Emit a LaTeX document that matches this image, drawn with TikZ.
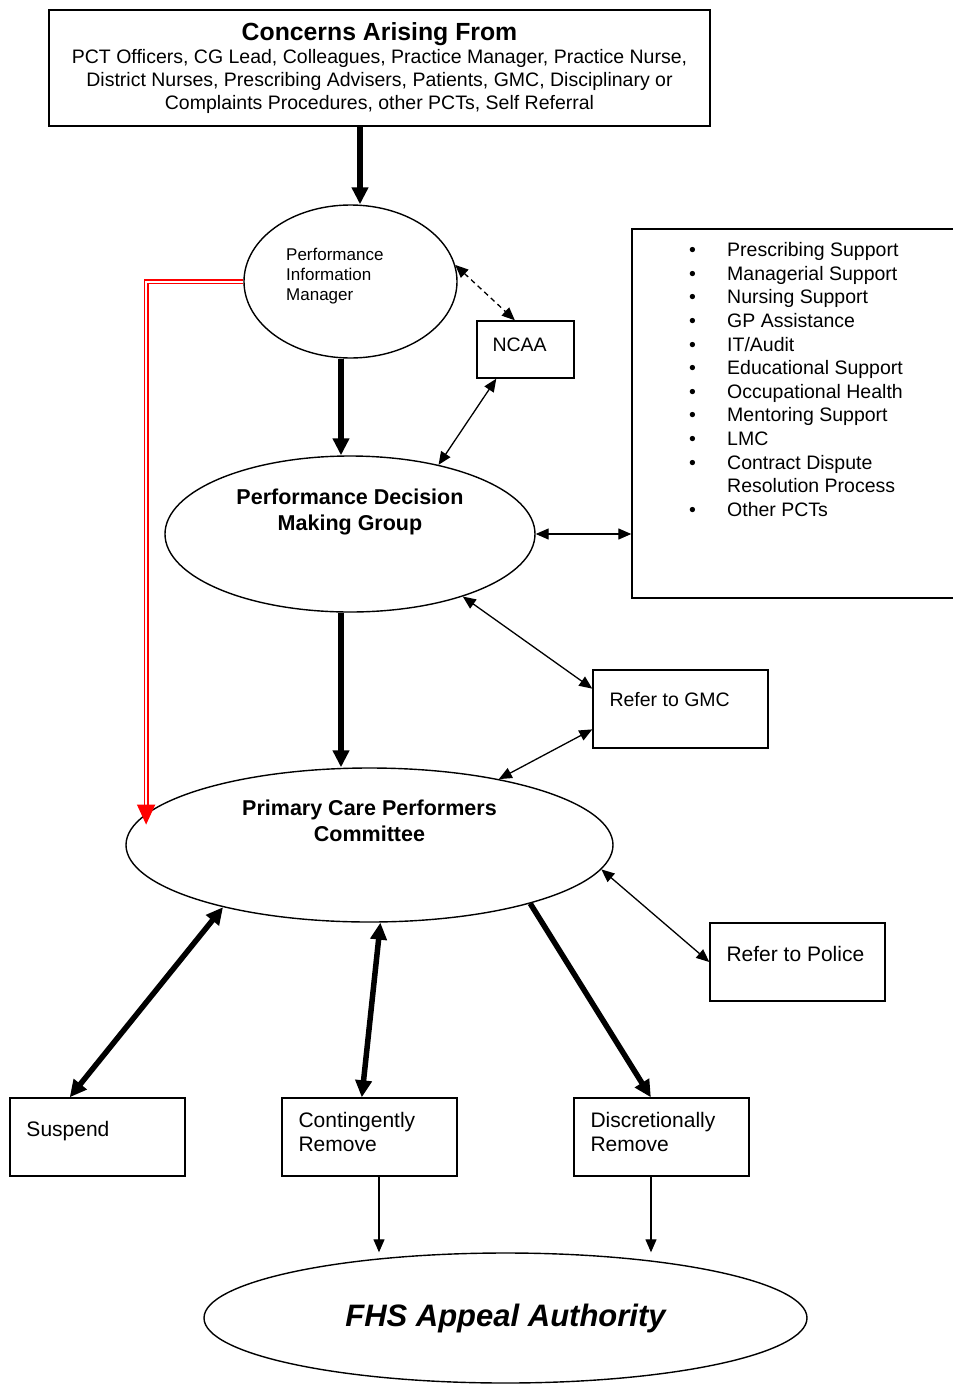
\documentclass[tikz,border=0pt]{standalone}
\usepackage{fontspec}
\setmainfont{Liberation Sans}
\usetikzlibrary{arrows.meta,shapes.geometric}

\begin{document}
\begin{tikzpicture}[%
  x = 1pt, y = -1pt,
  box/.style = {draw, line width = 1.4pt, inner sep = 0pt, minimum width = 175pt, minimum height = 78pt},
  oval/.style = {draw, ellipse, line width = 1.4pt, inner sep = 0pt},
  boxtext/.style = {anchor = north west, align = left, inner sep = 0pt, font = \fontsize{21}{24}\selectfont},
  bigtext/.style = {align = center, inner sep = 0pt, font = \fontsize{21.5}{26}\selectfont\bfseries},
  heavy/.style = {line width = 5.5pt, -{Triangle[length = 17pt, width = 16pt]}},
  heavyboth/.style = {line width = 5.5pt, {Triangle[length = 17pt, width = 16pt]}-{Triangle[length = 17pt, width = 16pt]}},
  link/.style = {line width = 1.3pt, -{Triangle[length = 13pt, width = 11pt]}},
  linkboth/.style = {line width = 1.3pt, {Triangle[length = 13pt, width = 11pt]}-{Triangle[length = 13pt, width = 11pt]}}]
  \useasboundingbox (0, 0) rectangle (953, 1387);

  \node[draw, line width = 1.4pt, inner sep = 0pt, minimum width = 661pt, minimum height = 116pt,
    align = center, font = \fontsize{19.5}{23}\selectfont] (concerns) at (379.5, 68)
    {{\fontsize{24.8}{28}\selectfont\bfseries Concerns Arising From}\\
     PCT Officers, CG Lead, Colleagues, Practice Manager, Practice Nurse,\\
     District Nurses, Prescribing Advisers, Patients, GMC, Disciplinary or\\
     Complaints Procedures, other PCTs, Self Referral};

  \node[oval, minimum width = 213pt, minimum height = 153pt] (pim) at (350.5, 281.5) {};
  \node[align = left, inner sep = 0pt, anchor = west, font = \fontsize{17}{20}\selectfont] (pimtext)
    at ([xshift = -64.5pt, yshift = 5pt]pim.center) {Performance\\Information\\Manager};

  \node[box, minimum width = 97pt, minimum height = 57pt] (ncaa) at (525.5, 349.5) {};
  \node[boxtext, font = \fontsize{19.5}{24}\selectfont] (ncaatext) at ([shift = {(16, 17)}]ncaa.north west) {NCAA};

  \node[draw, line width = 1.4pt, inner sep = 0pt, minimum width = 340pt, minimum height = 369pt] (support) at (802, 413.5) {};
  \node[anchor = north west, inner sep = 0pt, font = \fontsize{19.5}{23.6}\selectfont] (supporttext) at (689, 240) {%
    \begin{tabular}{@{}p{38pt}@{}l@{}}
      \textbullet & Prescribing Support\\
      \textbullet & Managerial Support\\
      \textbullet & Nursing Support\\
      \textbullet & GP Assistance\\
      \textbullet & IT/Audit\\
      \textbullet & Educational Support\\
      \textbullet & Occupational Health\\
      \textbullet & Mentoring Support\\
      \textbullet & LMC\\
      \textbullet & Contract Dispute\\
                  & Resolution Process\\
      \textbullet & Other PCTs
    \end{tabular}};

  \node[oval, minimum width = 370pt, minimum height = 156pt] (pdmg) at (350, 534) {};
  \node[bigtext] (pdmgtext) at ([yshift = 22pt]pdmg.center) {Performance Decision\\Making Group};

  \node[box] (gmc) at (680.5, 709) {};
  \node[boxtext, font = \fontsize{19.5}{24}\selectfont] (gmctext) at ([shift = {(17, 23)}]gmc.north west) {Refer to GMC};

  \node[oval, minimum width = 487pt, minimum height = 154pt] (pcpc) at (369.5, 845) {};
  \node[bigtext] (pcpctext) at ([yshift = 24pt]pcpc.center) {Primary Care Performers\\Committee};

  \node[box] (police) at (797.5, 962) {};
  \node[boxtext] (policetext) at ([shift = {(17, 23.5)}]police.north west) {Refer to Police};

  \node[box] (suspend) at (97.5, 1137) {};
  \node[boxtext] (suspendtext) at ([shift = {(17, 23.5)}]suspend.north west) {Suspend};
  \node[box] (cont) at (369.5, 1137) {};
  \node[boxtext] (conttext) at ([shift = {(17, 14.5)}]cont.north west) {Contingently\\Remove};
  \node[box] (disc) at (661.5, 1137) {};
  \node[boxtext] (disctext) at ([shift = {(17, 14.5)}]disc.north west) {Discretionally\\Remove};

  \node[oval, minimum width = 603pt, minimum height = 130pt,
    font = \fontsize{31}{36}\selectfont\bfseries\itshape] (fhs) at (505.5, 1318) {FHS Appeal Authority};

  \draw[heavy] ([xshift = -19.5pt]concerns.south) -- ([xshift = -19.5pt]concerns.south |- pim.north);
  \draw[heavy] ([xshift = -9.5pt]pim.south) -- ([xshift = -9.5pt]pim.south |- pdmg.north);
  \draw[heavy] ([xshift = -9pt]pdmg.south) -- ([xshift = -9pt]pdmg.south |- pcpc.north);

  \draw[linkboth, dash pattern = on 5pt off 4pt] (pim.9) -- (ncaa.110);
  \draw[linkboth] (ncaa.225) -- (pdmg.38);
  \draw[linkboth] (pdmg.east) -- (pdmg.east -| support.west);
  \draw[linkboth] (pdmg.-29) -- (gmc.167);
  \draw[linkboth] (gmc.193) -- (pcpc.27);
  \draw[linkboth] (pcpc.-6) -- (police.west);

  \draw[heavyboth] (pcpc.203) -- (suspend.125);
  \draw[heavyboth] (pcpc.-82) -- (cont.101);
  \draw[heavy] (pcpc.-20) -- (disc.105);

  \draw[link] ([xshift = 9.5pt]cont.south) -- ([xshift = 9.5pt]cont.south |- fhs.north);
  \draw[link] ([xshift = -10.5pt]disc.south) -- ([xshift = -10.5pt]disc.south |- fhs.north);

  \draw[red, line width = 1.6pt, double = white, double distance = 2pt, shorten >= -11pt,
    -{Triangle[length = 20pt, width = 18pt]}] (pim.west) -| (pcpc.172);
\end{tikzpicture}
\end{document}
